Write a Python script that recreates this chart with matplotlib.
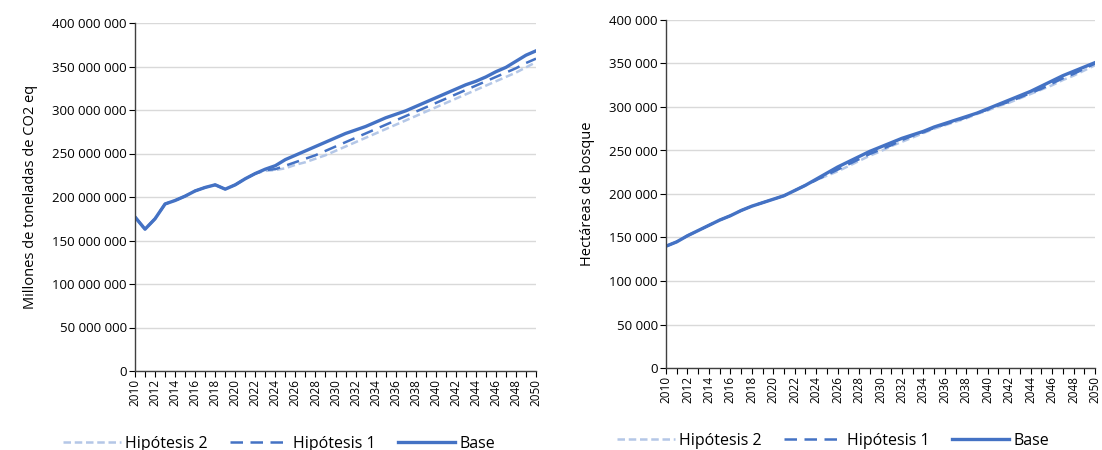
import matplotlib.pyplot as plt
from matplotlib.ticker import FuncFormatter, MultipleLocator

plt.rcParams['font.family'] = ['Open Sans', 'DejaVu Sans']

anios = list(range(2010, 2051))

# Emisiones (millones de t CO2 eq)
co2_base = [177, 163, 175, 192, 196, 201, 207, 211, 214, 209, 214, 221, 227, 232, 236,
            243, 248, 253, 258, 263, 268, 273, 277, 281, 286, 291, 295, 299, 304, 309,
            314, 319, 324, 329, 333, 338, 344, 349, 356, 363, 368]
co2_h1 = [177, 163, 175, 192, 196, 201, 207, 211, 214, 209, 214, 221, 227, 231, 232,
          236, 240, 244, 248, 253, 258, 263, 268, 273, 278, 283, 288, 293, 298, 303,
          308, 313, 318, 323, 328, 333, 338, 343, 348, 354, 359]
co2_h2 = [177, 163, 175, 192, 196, 201, 207, 211, 214, 209, 214, 221, 227, 230, 231,
          233, 237, 240, 244, 248, 253, 258, 263, 268, 273, 278, 283, 288, 293, 298,
          303, 308, 313, 318, 323, 328, 333, 338, 343, 349, 355]

# Hectáreas de bosque (miles)
ha_base = [140, 145, 152, 158, 164, 170, 175, 181, 186, 190, 194, 198, 204, 210, 217,
           224, 231, 237, 243, 249, 254, 259, 264, 268, 272, 277, 281, 285, 289, 293,
           298, 303, 308, 313, 318, 324, 330, 336, 341, 346, 351]
ha_h1 = [140, 145, 152, 158, 164, 170, 175, 181, 186, 190, 194, 198, 204, 210, 216,
         222, 228, 234, 240, 246, 251, 256, 262, 267, 271, 276, 280, 284, 288, 293,
         297, 302, 306, 311, 316, 321, 327, 333, 338, 344, 350]
ha_h2 = [140, 145, 152, 158, 164, 170, 175, 181, 186, 190, 194, 198, 204, 210, 216,
         221, 226, 232, 238, 244, 249, 255, 260, 265, 270, 275, 279, 283, 287, 292,
         296, 301, 305, 310, 315, 320, 325, 331, 336, 342, 348]

azul = '#4472C4'
azul_claro = '#B4C7E7'


def miles(v, pos):
    return f'{int(v):,}'.replace(',', ' ')


def graficar(ax, base, h1, h2, escala, ymax, ylabel, x_leyenda):
    ax.plot(anios, [v * escala for v in h2], color=azul_claro, lw=1.8, ls=(0, (3, 1.5)), label='Hipótesis 2')
    ax.plot(anios, [v * escala for v in h1], color=azul, lw=1.8, ls=(0, (5, 3)), label='Hipótesis 1')
    ax.plot(anios, [v * escala for v in base], color=azul, lw=2.4, label='Base')
    ax.set_xlim(2010, 2050)
    ax.set_ylim(0, ymax)
    ax.set_xticks(range(2010, 2051, 2))
    ax.xaxis.set_minor_locator(MultipleLocator(1))
    ax.tick_params(axis='x', which='both', rotation=90, length=4, width=0.8, labelsize=8.5, pad=2)
    ax.tick_params(axis='y', length=4, width=0.8, labelsize=9.5, pad=2)
    ax.yaxis.set_major_formatter(FuncFormatter(miles))
    ax.grid(axis='y', color='#D9D9D9', lw=1)
    ax.set_axisbelow(True)
    for s in ['top', 'right']:
        ax.spines[s].set_visible(False)
    for s in ['left', 'bottom']:
        ax.spines[s].set_color('#404040')
        ax.spines[s].set_linewidth(1.0)
    ax.set_ylabel(ylabel, fontsize=10.5, labelpad=10)
    ax.legend(loc='center', bbox_to_anchor=(x_leyenda, -0.21), ncol=3, frameon=False,
              fontsize=11.5, handlelength=3.6, columnspacing=1.4, handletextpad=0.3)


fig = plt.figure(figsize=(11.02, 4.5), dpi=100)
ax1 = fig.add_axes([135 / 1102, 1 - 371 / 450, 401 / 1102, 348 / 450])
ax2 = fig.add_axes([666 / 1102, 1 - 368 / 450, 429 / 1102, 348 / 450])

graficar(ax1, co2_base, co2_h1, co2_h2, 1000000, 400000000, 'Millones de toneladas de CO2 eq', 0.36)
graficar(ax2, ha_base, ha_h1, ha_h2, 1000, 400000, 'Hectáreas de bosque', 0.39)

fig.savefig('out.png', dpi=100)
